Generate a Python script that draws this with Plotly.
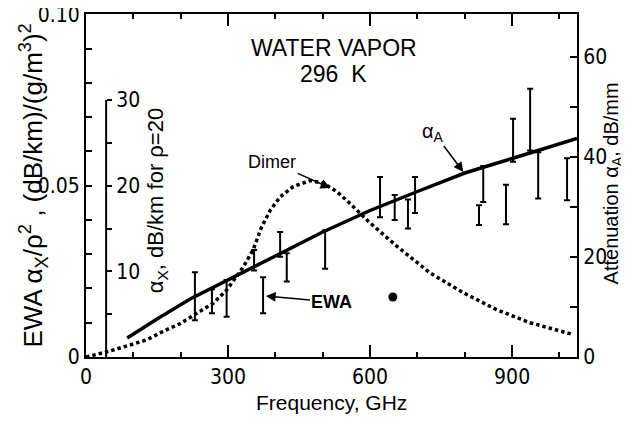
import plotly.graph_objs as go

# solid curve: attenuation alpha_A, dB/mm (right axis)
freq_aA = [87, 150, 220, 300, 400, 500, 600, 700, 800, 900, 1037]
atten_aA = [3.8, 7.6, 11.6, 15.5, 20.2, 25.0, 29.3, 33.1, 36.8, 39.7, 43.7]

# dotted curve: dimer, alpha_x in dB/km for rho=20
freq_dimer = [0, 44, 93, 128, 163, 199, 234, 269, 297, 332, 353, 371, 389, 410, 438,
              473, 501, 530, 558, 579, 597, 657, 727, 797, 868, 938, 1030]
ax_dimer = [0, 0.6, 1.4, 2.0, 3.0, 3.9, 5.1, 6.3, 7.8, 10.5, 12.5, 15.2, 17.1, 18.7, 19.9,
            20.6, 20.3, 19.3, 17.9, 16.8, 15.8, 12.9, 9.8, 7.5, 5.5, 4.0, 2.6]

# EWA error bars, alpha_x in dB/km for rho=20
freq_ewa = [230, 266, 297, 355, 374, 410, 424, 505, 621, 652, 680, 695, 830, 839, 887, 902, 938, 955, 1016]
ewa_lo = [4.3, 5.1, 4.7, 10.1, 5.1, 11.7, 8.8, 10.3, 16.3, 16.0, 15.0, 16.8, 15.4, 18.1, 15.5, 22.8, 24.1, 18.5, 18.3]
ewa_hi = [9.9, 7.9, 9.0, 12.5, 9.3, 14.6, 12.1, 14.8, 21.0, 18.9, 18.4, 21.0, 17.7, 22.3, 20.1, 27.8, 31.3, 23.9, 23.2]

# single point
freq_dot = [648]
ax_dot = [7.0]

rho_sq = 20 ** 2  # alpha_x = EWA * rho^2

tick_font = dict(family='Liberation Sans Narrow, DejaVu Sans Condensed, Roboto Condensed, Liberation Sans, sans-serif',
                 size=21, color='black')
text_font = 'Liberation Sans, Arial, sans-serif'

ewa_mid = [(lo + hi) / 2 / rho_sq for lo, hi in zip(ewa_lo, ewa_hi)]
ewa_half = [(hi - lo) / 2 / rho_sq for lo, hi in zip(ewa_lo, ewa_hi)]

fig = go.Figure()

fig.add_trace(go.Scatter(x=freq_dimer, y=[v / rho_sq for v in ax_dimer], mode='lines',
                         line=dict(color='black', width=3.5, dash='3.5px,3px')))
fig.add_trace(go.Scatter(x=freq_ewa, y=ewa_mid, mode='markers',
                         marker=dict(size=1, opacity=0),
                         error_y=dict(type='data', array=ewa_half, visible=True,
                                      color='black', thickness=2, width=3)))
fig.add_trace(go.Scatter(x=freq_dot, y=[v / rho_sq for v in ax_dot], mode='markers',
                         marker=dict(color='black', size=9)))
fig.add_trace(go.Scatter(x=freq_aA, y=atten_aA, yaxis='y2', mode='lines',
                         line=dict(color='black', width=3.5)))

ann = lambda **kw: dict(showarrow=False, xanchor='center', yanchor='middle', **kw)
arrow = dict(showarrow=True, arrowhead=2, arrowsize=1.3, arrowwidth=1.5, arrowcolor='black')

# page body has an 8px margin, so the figure is drawn 8px smaller
fig.update_layout(
    width=621, height=414,
    margin=dict(l=78, r=52, t=6, b=65, autoexpand=False),
    paper_bgcolor='white', plot_bgcolor='white',
    showlegend=False,
    xaxis=dict(range=[0, 1037], showline=True, linecolor='black', linewidth=2, mirror='ticks',
               ticks='inside', dtick=300, tick0=0, ticklen=12, tickwidth=1.5, tickcolor='black',
               minor=dict(dtick=100, ticks='inside', ticklen=5, tickwidth=1.5, tickcolor='black'),
               showgrid=False, zeroline=False, tickfont=tick_font, automargin=False),
    yaxis=dict(range=[0, 0.1001], showline=True, linecolor='black', linewidth=2,
               ticks='inside', dtick=0.05, tick0=0, tickformat='.2f', labelalias={'0.00': '0'},
               ticklen=6, tickwidth=1.5, tickcolor='black', ticklabeloverflow='allow',
               minor=dict(dtick=0.01, ticks='inside', ticklen=6, tickwidth=1.5, tickcolor='black'),
               showgrid=False, zeroline=False, tickfont=tick_font, automargin=False),
    yaxis2=dict(range=[0, 68.6], overlaying='y', side='right', showline=True, linecolor='black',
                linewidth=2, ticks='inside', dtick=20, tick0=0, ticklen=7, tickwidth=1.5,
                tickcolor='black',
                minor=dict(dtick=10, ticks='inside', ticklen=7, tickwidth=1.5, tickcolor='black'),
                showgrid=False, zeroline=False, tickfont=tick_font, automargin=False),
    yaxis3=dict(range=[0, 0.1001 * rho_sq], overlaying='y', anchor='free', position=0.041, side='right',
                showline=False, ticks='outside', tickvals=[5, 10, 15, 20, 25, 30],
                ticktext=['', '10', '', '20', '', '30'], ticklen=5, tickwidth=1.5, tickcolor='black',
                showgrid=False, zeroline=False, tickfont=tick_font, automargin=False),
    shapes=[dict(type='line', xref='paper', yref='y3', x0=0.041, x1=0.041, y0=0, y1=30,
                 line=dict(color='black', width=2))],
    annotations=[
        ann(text='EWA α<sub>X</sub>/ρ<sup>2</sup> , (dB/km)/(g/m<sup>3</sup>)<sup>2</sup>',
            xref='paper', yref='paper', x=-0.108, y=0.5, textangle=-90,
            font=dict(family=text_font, size=26, color='black')),
        ann(text='α<sub>X</sub>, dB/km for ρ=20', xref='paper', yref='paper', x=0.145, y=0.455,
            textangle=-90, font=dict(family=text_font, size=22, color='black')),
        ann(text='Attenuation α<sub>A</sub>, dB/mm', xref='paper', yref='paper', x=1.072, y=0.507,
            textangle=-90, font=dict(family=text_font, size=20, color='black')),
        ann(text='Frequency, GHz', xref='paper', yref='paper', x=0.499, y=-0.134,
            font=dict(family=text_font, size=21, color='black')),
        ann(text='WATER VAPOR', xref='x', yref='y2', x=524, y=61.8,
            font=dict(family=text_font, size=23, color='black')),
        ann(text='296  K', xref='x', yref='y2', x=522, y=56.6,
            font=dict(family=text_font, size=23, color='black')),
        dict(text='Dimer', xref='x', yref='y2', x=516, y=33.8, ax=-58, ay=-26,
             font=dict(family=text_font, size=18, color='black'), **arrow),
        dict(text='α<sub>A</sub>', xref='x', yref='y2', x=797, y=37, ax=-30, ay=-40,
             font=dict(family=text_font, size=20, color='black'), **arrow),
        dict(text='<b>EWA</b>', xref='x', yref='y2', x=380, y=12.2, ax=66, ay=6,
             font=dict(family=text_font, size=18, color='black'), **arrow),
    ],
)

fig.write_html("out.html")
